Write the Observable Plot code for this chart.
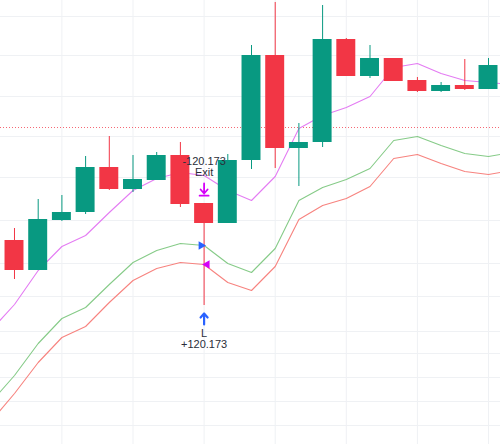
<!DOCTYPE html>
<html><head><meta charset="utf-8">
<script src="https://cdn.jsdelivr.net/npm/d3@7"></script>
<script src="https://cdn.jsdelivr.net/npm/@observablehq/plot@0.6"></script>
<style>html,body{margin:0;padding:0;background:#fff;} #chart svg{display:block}</style>
</head><body><div id="chart"></div>
<script>
// ---- data (price units) ----
const bars  = d3.range(0, 21);
const open  = [204,174,224,232,277,255,264,289,241,221,284,389,296,302,405,368,386,364,353,359,355];
const high  = [216,245,249,288,308,289,292,302,241,290,399,442,321,439,406,399,386,367,362,385,386];
const low   = [165,174,223,230,254,252,264,237,139,221,275,276,258,297,368,366,363,352,352,354,355];
const close = [174,225,232,277,255,265,289,240,221,284,389,296,302,405,368,386,363,353,359,355,379];

const lineBars   = d3.range(-1, 22);
const basisLine  = [114,140,174,198,209,232,254,266,272,269,254,244,268,316,329,337,348,377,381,371,364,362,360];
const upperBand  = [42,69,101,126,137,160,182,194,201,199,181,172,196,244,257,265,276,304,308,299,291,288,292];
const lowerBand  = [23,51,82,107,118,142,164,176,182,180,162,154,178,225,239,246,258,286,290,281,273,270,274];

const gridPrices = [428,389,348,308,267,224,181,148,113,91,67,43,19];
const gridBars   = [2,5,8,11,14,17,20];
const levelPrice = 317;

const tradeBar   = 8;
const entryText  = ["L", "+120.173"];
const exitText   = ["-120.173", "Exit"];

// ---- build tables ----
const candles = bars.map((i, k) => ({i, open: open[k], high: high[k], low: low[k], close: close[k], up: close[k] >= open[k]}));
const lines = lineBars.map((i, k) => ({i, basis: basisLine[k], upper: upperBand[k], lower: lowerBand[k]}));
const trade = [{i: tradeBar, high: high[tradeBar], low: low[tradeBar],
  upper: upperBand[lineBars.indexOf(tradeBar)], lower: lowerBand[lineBars.indexOf(tradeBar)]}];

const GREEN = "#089981", RED = "#f23645";
const BLUE = "#2962ff", MAGENTA = "#d500f9";

const arrowUp = {draw(ctx, l) {
  ctx.moveTo(0, 0); ctx.lineTo(0, -l);
  ctx.moveTo(-3.5, -l + 4); ctx.lineTo(0, -l); ctx.lineTo(3.5, -l + 4);
}};
const arrowDownBar = {draw(ctx, l) {
  ctx.moveTo(0, 0); ctx.lineTo(0, -l + 3);
  ctx.moveTo(-3.5, -l + 7); ctx.lineTo(0, -l + 3); ctx.lineTo(3.5, -l + 7);
  ctx.moveTo(-4.5, -l + 0.8); ctx.lineTo(4.5, -l + 0.8);
}};

const labelStyle = {fill: "#2a2e39", fontSize: 11, fontFamily: "'Liberation Sans', Arial, sans-serif"};

const chart = Plot.plot({
  width: 500, height: 444, margin: 0,
  x: {domain: [-0.5907, 20.506], axis: null},
  y: {domain: [0, 444], axis: null},
  color: {domain: [true, false], range: [GREEN, RED]},
  style: {background: "#fff"},
  marks: [
    Plot.ruleY(gridPrices, {stroke: "#eff1f4", strokeWidth: 1}),
    Plot.ruleX(gridBars, {stroke: "#eff1f4", strokeWidth: 1}),
    Plot.ruleY([levelPrice], {stroke: "#f23645", strokeOpacity: 0.75, strokeWidth: 1, strokeDasharray: "1,2"}),
    Plot.line(lines, {x: "i", y: "basis", stroke: "#e47cf3", strokeWidth: 1.1, clip: true}),
    Plot.line(lines, {x: "i", y: "upper", stroke: "#86cb88", strokeWidth: 1.1, clip: true}),
    Plot.line(lines, {x: "i", y: "lower", stroke: "#f7837f", strokeWidth: 1.1, clip: true}),
    Plot.ruleX(candles, {x: "i", y1: "low", y2: "high", stroke: "up", strokeWidth: 1}),
    Plot.rect(candles, {x1: d => d.i - 0.4, x2: d => d.i + 0.4, y1: "open", y2: "close", fill: "up"}),
    Plot.dot(trade, {x: "i", y: "upper", symbol: "triangle", rotate: 90, r: 3.2, fill: BLUE, stroke: null, dx: -3}),
    Plot.dot(trade, {x: "i", y: "lower", symbol: "triangle", rotate: -90, r: 3.2, fill: MAGENTA, stroke: null, dx: 3}),
    Plot.vector(trade, {x: "i", y: "low", dy: 19, length: 11, anchor: "start", rotate: 0, shape: arrowUp, stroke: BLUE, strokeWidth: 2.2}),
    Plot.vector(trade, {x: "i", y: "high", dy: -7, length: 13, anchor: "end", rotate: 180, shape: arrowDownBar, stroke: MAGENTA, strokeWidth: 1.8}),
    Plot.text(trade, {x: "i", y: "low", text: () => entryText[0], dy: 28, ...labelStyle}),
    Plot.text(trade, {x: "i", y: "low", text: () => entryText[1], dy: 39, ...labelStyle}),
    Plot.text(trade, {x: "i", y: "high", text: () => exitText[0], dy: -42, ...labelStyle}),
    Plot.text(trade, {x: "i", y: "high", text: () => exitText[1], dy: -31, ...labelStyle})
  ]
});
document.getElementById("chart").append(chart);
</script>
</body></html>
